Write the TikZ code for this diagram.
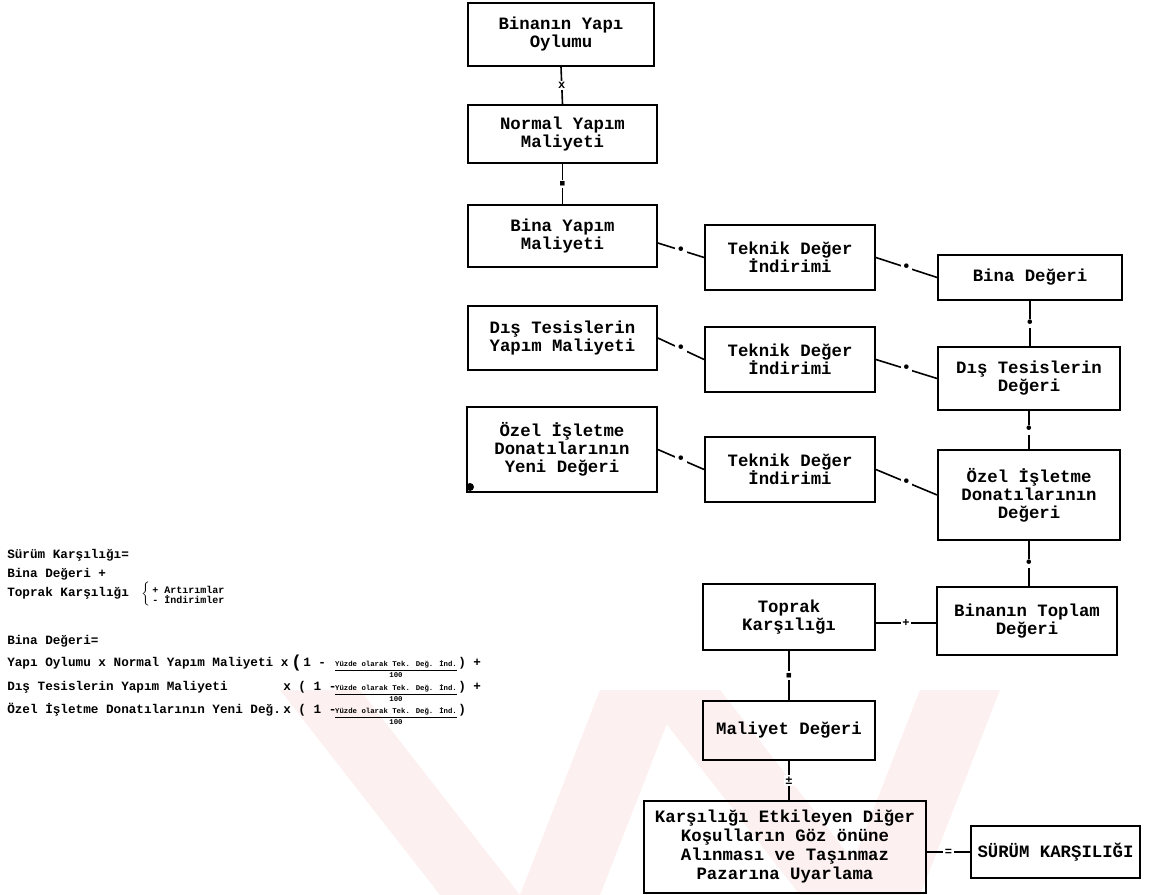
\documentclass[tikz,border=0pt]{standalone}
\usepackage{fontspec}
\newfontfamily\tw{Liberation Mono}
\usetikzlibrary{calc}
\definecolor{wm}{RGB}{253,240,240}
\begin{document}
\begin{tikzpicture}[x=0.75pt,y=-0.75pt,
 box/.style={draw, line width=1.3pt, rectangle, align=center, inner sep=2pt, font=\tw\bfseries\fontsize{13}{13.5}\selectfont},
 conn/.style={line width=1.2pt},
 op/.style={fill=white, inner sep=1.2pt, font=\tw\bfseries\fontsize{9}{9}\selectfont},
 dotop/.style={fill=white, inner sep=0.8pt, font=\tw\bfseries\fontsize{12}{12}\selectfont},
 lt/.style={anchor=base west, inner sep=0, font=\tw\bfseries\fontsize{9.5}{10}\selectfont},
 frac/.style={inner sep=0, align=center, font=\tw\bfseries\fontsize{5.5}{6}\selectfont},
]
\useasboundingbox[fill=white] (0,0) rectangle (1159,895);
% watermark
\fill[wm] (280,690) -- (360,690) -- (520,895) -- (440,895) -- cycle;
\fill[wm] (600,690) -- (680,690) -- (600,895) -- (520,895) -- cycle;
\fill[wm] (640,690) -- (720,690) -- (880,895) -- (800,895) -- cycle;
\fill[wm] (920,690) -- (1000,690) -- (920,895) -- (840,895) -- cycle;

% left column
\node[box, minimum width=139.5pt, minimum height=47.25pt] (A) at (561,34.5) {Binanın Yapı\\Oylumu};
\node[box, minimum width=141.75pt, minimum height=43.5pt] (B) at (562.5,134) {Normal Yapım\\Maliyeti};
\node[box, minimum width=141.75pt, minimum height=46.5pt] (C) at (562.5,236) {Bina Yapım\\Maliyeti};
\node[box, minimum width=141.75pt, minimum height=48pt] (D) at (562.5,338) {Dış Tesislerin\\Yapım Maliyeti};
\node[box, minimum width=142.5pt, minimum height=63.75pt] (E) at (562,449.5) {Özel İşletme\\Donatılarının\\Yeni Değeri};
\fill (470,487) circle (4);
% middle column
\node[box, minimum width=127.5pt, minimum height=48.75pt] (T1) at (790,257.5) {Teknik Değer\\İndirimi};
\node[box, minimum width=127.5pt, minimum height=48.75pt] (T2) at (790,359.5) {Teknik Değer\\İndirimi};
\node[box, minimum width=127.5pt, minimum height=48.75pt] (T3) at (790,469.5) {Teknik Değer\\İndirimi};
% right column
\node[box, minimum width=138pt, minimum height=33.75pt] (R1) at (1030,277.5) {Bina Değeri};
\node[box, minimum width=136.5pt, minimum height=47.25pt] (R2) at (1029,378.5) {Dış Tesislerin\\Değeri};
\node[box, minimum width=136.5pt, minimum height=67.5pt] (R3) at (1029,495) {Özel İşletme\\Donatılarının\\Değeri};
\node[box, minimum width=135pt, minimum height=51pt] (R4) at (1027,621) {Binanın Toplam\\Değeri};
% bottom
\node[box, minimum width=129pt, minimum height=49.5pt] (TK) at (789,617) {Toprak\\Karşılığı};
\node[box, minimum width=129pt, minimum height=44.25pt] (MD) at (789,730.5) {Maliyet Değeri};
\node[box, minimum width=211.5pt, minimum height=69pt, font=\tw\bfseries\fontsize{13}{14.25}\selectfont] (BG) at (785,847) {Karşılığı Etkileyen Diğer\\Koşulların Göz önüne\\Alınması ve Taşınmaz\\Pazarına Uyarlama};
\node[box, minimum width=126.75pt, minimum height=39pt] (SK) at (1055.5,852) {SÜRÜM KARŞILIĞI};

% connectors
\coordinate (cs) at ($(C.east)+(0,7)$);
\coordinate (tks) at ($(TK.east)+(0,6)$);
\draw[conn] (A.south) -- node[op]{x} (B.north);
\draw[conn] (B.south) -- node[op, font=\tw\fontsize{7}{7}\selectfont]{■} (C.north);
\draw[conn] (cs) -- node[dotop]{•} (T1.west);
\draw[conn] (T1.east) -- node[dotop]{•} (R1.west);
\draw[conn] (D.east) -- node[dotop]{•} (T2.west);
\draw[conn] (T2.east) -- node[dotop]{•} (R2.west);
\draw[conn] (E.east) -- node[dotop]{•} (T3.west);
\draw[conn] (T3.east) -- node[dotop]{•} (R3.west);
\draw[conn] (R1.south) -- node[dotop]{•} (R1.south |- R2.north);
\draw[conn] (R2.south) -- node[dotop]{•} (R2.south |- R3.north);
\draw[conn] (R3.south) -- node[dotop]{•} (R3.south |- R4.north);
\draw[conn] (tks) -- node[op]{+} (tks -| R4.west);
\draw[conn] (TK.south) -- node[op, font=\tw\fontsize{7}{7}\selectfont]{■} (TK.south |- MD.north);
\draw[conn] (MD.south) -- node[op]{±} (MD.south |- BG.north);
\draw[conn] (SK.west -| BG.east) -- node[op]{=} (SK.west);

% left formulas
\node[lt] (l1) at (7,558) {Sürüm Karşılığı=};
\node[lt] (l2) at (7,577) {Bina Değeri +};
\node[lt] (l3) at (7,596) {Toprak Karşılığı};
\node[inner sep=0] (lb) at (147,594) {$\left\{\rule{0pt}{11pt}\right.$};
\node[anchor=west, inner sep=0, align=left, font=\tw\bfseries\fontsize{7.5}{8}\selectfont] (l4) at (152,595) {+ Artırımlar\\- İndirimler};
\node[lt] (l5) at (7,644) {Bina Değeri=};
% row 1
\node[lt] (r1) at (7,666) {Yapı Oylumu x Normal Yapım Maliyeti x};
\node[lt, font=\tw\bfseries\fontsize{13}{13}\selectfont] (r1p) at (291,667) {(};
\node[lt] (r1a) at (303,666) {1 -};
\node[frac] (r1f) at (396,669) {\underline{Yüzde olarak Tek. Değ. İnd.}\\100};
\node[lt] (r1b) at (458,666) {) +};
% row 2
\node[lt] (r2) at (7,690) {Dış Tesislerin Yapım Maliyeti};
\node[lt] (r2a) at (283,690) {x ( 1 -};
\node[frac] (r2f) at (396,693) {\underline{Yüzde olarak Tek. Değ. İnd.}\\100};
\node[lt] (r2b) at (458,690) {) +};
% row 3
\node[lt] (r3) at (7,713) {Özel İşletme Donatılarının Yeni Değ.};
\node[lt] (r3a) at (283,713) {x ( 1 -};
\node[frac] (r3f) at (396,716) {\underline{Yüzde olarak Tek. Değ. İnd.}\\100};
\node[lt] (r3b) at (458,713) {)};
\end{tikzpicture}
\end{document}
